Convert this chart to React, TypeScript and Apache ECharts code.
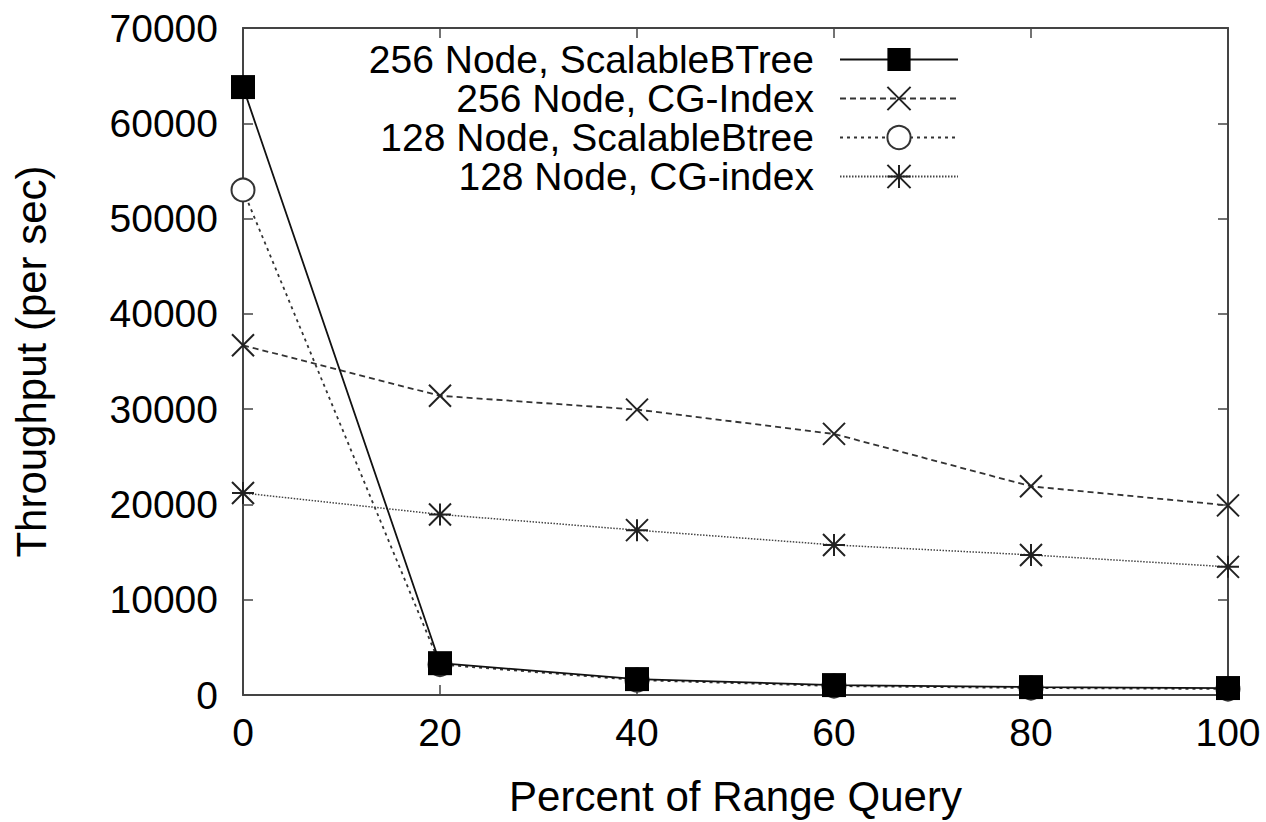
import React, { useEffect, useRef } from "react";
import * as echarts from "echarts";

const xValues = [0, 20, 40, 60, 80, 100];
const seriesNames = [
  "256 Node, ScalableBTree",
  "256 Node, CG-Index",
  "128 Node, ScalableBtree",
  "128 Node, CG-index",
];
const sbt256 = [63800, 3340, 1670, 1040, 830, 730];
const cg256 = [36700, 31400, 29950, 27400, 21900, 19900];
const sbt128 = [53000, 3200, 1560, 940, 730, 630];
const cg128 = [21200, 18950, 17300, 15750, 14700, 13450];

const crossPath = "path://M0,0L10,10M10,0L0,10";
const starPath = "path://M5,0L5,10M0,5L10,5M0,0L10,10M10,0L0,10";

export default function App() {
  const ref = useRef<HTMLDivElement>(null);
  useEffect(() => {
    document.body.style.margin = "0";
    const chart = echarts.init(ref.current!, null, { renderer: "svg" });
    const font = "'Liberation Sans', Arial, sans-serif";
    const pair = (arr: number[]) => xValues.map((x, i) => [x, arr[i]]);
    const axisLine = { show: true, onZero: false, lineStyle: { color: "#444", width: 2 } };
    const axisTick = { show: true, inside: true, length: 10, lineStyle: { color: "#444", width: 1.5 } };
    chart.setOption({
      animation: false,
      backgroundColor: "#fff",
      textStyle: { fontFamily: font },
      grid: { left: 243, right: 38, top: 28, bottom: 123 },
      legend: {
        right: 302,
        top: 35,
        orient: "vertical",
        align: "right",
        itemWidth: 118,
        itemHeight: 29,
        itemGap: 0,
        textStyle: {
          fontSize: 39,
          lineHeight: 39,
          color: "#000",
          fontFamily: font,
          padding: [0, 21, 0, 0],
        },
        data: seriesNames,
      },
      xAxis: [
        {
          type: "value",
          min: 0,
          max: 100,
          interval: 20,
          name: "Percent of Range Query",
          nameLocation: "middle",
          nameGap: 80,
          nameTextStyle: { fontSize: 42, color: "#000" },
          axisLine,
          axisTick,
          axisLabel: { fontSize: 39, color: "#000", margin: 18 },
          splitLine: { show: false },
        },
        {
          type: "value",
          position: "top",
          min: 0,
          max: 100,
          interval: 20,
          axisLine,
          axisTick,
          axisLabel: { show: false },
          splitLine: { show: false },
        },
      ],
      yAxis: [
        {
          type: "value",
          min: 0,
          max: 70000,
          interval: 10000,
          name: "Throughput (per sec)",
          nameLocation: "middle",
          nameGap: 191,
          nameTextStyle: { fontSize: 42, color: "#000" },
          axisLine,
          axisTick,
          axisLabel: {
            fontSize: 39,
            color: "#000",
            margin: 25,
            formatter: (v: number) => String(v),
          },
          splitLine: { show: false },
        },
        {
          type: "value",
          position: "right",
          min: 0,
          max: 70000,
          interval: 10000,
          axisLine,
          axisTick,
          axisLabel: { show: false },
          splitLine: { show: false },
        },
      ],
      series: [
        {
          name: seriesNames[0],
          type: "line",
          data: pair(sbt256),
          symbol: "rect",
          symbolSize: 24,
          lineStyle: { color: "#111", width: 1.8, type: "solid" },
          itemStyle: { color: "#000" },
          z: 5,
        },
        {
          name: seriesNames[1],
          type: "line",
          data: pair(cg256),
          symbol: crossPath,
          symbolSize: 22,
          lineStyle: { color: "#333", width: 1.8, type: [6, 4] },
          itemStyle: { color: "none", borderColor: "#222", borderWidth: 2 },
        },
        {
          name: seriesNames[2],
          type: "line",
          data: pair(sbt128),
          symbol: "emptyCircle",
          symbolSize: 23,
          lineStyle: { color: "#333", width: 1.8, type: [3, 4] },
          itemStyle: { color: "#333", borderColor: "#333", borderWidth: 1.5 },
        },
        {
          name: seriesNames[3],
          type: "line",
          data: pair(cg128),
          symbol: starPath,
          symbolSize: 22,
          lineStyle: { color: "#444", width: 1.5, type: [1.5, 1.5] },
          itemStyle: { color: "none", borderColor: "#222", borderWidth: 2 },
        },
      ],
    });
    return () => chart.dispose();
  }, []);
  return (
    <div
      ref={ref}
      style={{ position: "absolute", left: 0, top: 0, width: 1266, height: 822 }}
    />
  );
}
